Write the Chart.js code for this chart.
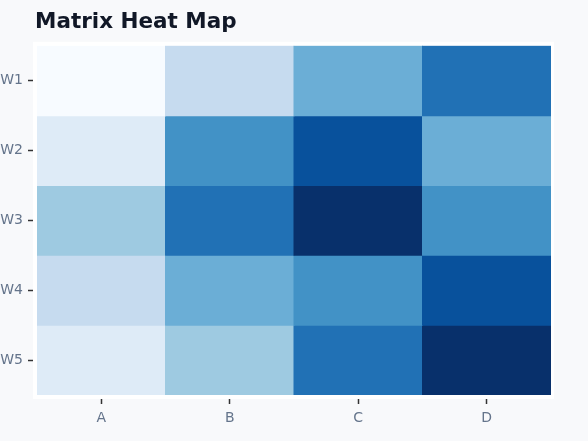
<!DOCTYPE html>
<html>
<head>
<meta charset="utf-8">
<script src="https://cdn.jsdelivr.net/npm/chart.js@4/dist/chart.umd.min.js"></script>
<style>
    html, body { margin: 0; padding: 0; background: #f8f9fb; }
    #wrap { width: 588px; height: 441px; }
</style>
</head>
<body>
<div id="wrap"><canvas id="heat"></canvas></div>
<script>
// columns and rows of the matrix
const columns = ['A', 'B', 'C', 'D'];
const rows = ['W1', 'W2', 'W3', 'W4', 'W5'];

// intensity level of every cell (0 = lightest, 8 = darkest), one array per row
const w1 = [0, 2, 4, 6];
const w2 = [1, 5, 7, 4];
const w3 = [3, 6, 8, 5];
const w4 = [2, 4, 5, 7];
const w5 = [1, 3, 6, 8];
const values = [w1, w2, w3, w4, w5];

// Blues scale
const blues = ['#f7fbff', '#deebf7', '#c6dbef', '#9ecae1', '#6baed6',
               '#4292c6', '#2171b5', '#08519c', '#08306b'];

(() => {
    const ctx = document.getElementById('heat').getContext('2d');

    // one dataset per row, floating bars spanning the row band
    const datasets = rows.map((row, r) => ({
        label: row,
        data: values[r].map(() => [r + 0.5, r + 1.5]),
        backgroundColor: values[r].map(v => blues[v]),
        borderWidth: 0,
        inflateAmount: 0.5,
        grouped: false,
        barPercentage: 1,
        categoryPercentage: 1
    }));

    // white frame behind the cells, title moved in line with the plot
    const framePlugin = {
        id: 'frame',
        afterLayout(chart) {
            chart.titleBlock.left = 35;
        },
        beforeDatasetsDraw(chart) {
            const a = chart.chartArea;
            const c = chart.ctx;
            c.save();
            c.fillStyle = '#ffffff';
            c.fillRect(a.left - 4, a.top - 4, a.right - a.left + 7, a.bottom - a.top + 8);
            c.restore();
        }
    };

    const tickFont = { family: 'DejaVu Sans', size: 14 };

    new Chart(ctx, {
        type: 'bar',
        data: { labels: columns, datasets: datasets },
        plugins: [framePlugin],
        options: {
            responsive: true,
            maintainAspectRatio: false,
            animation: false,
            layout: { padding: { left: 0, right: 37, top: 10, bottom: 0 } },
            plugins: {
                legend: { display: false },
                tooltip: { enabled: false },
                title: {
                    display: true,
                    text: 'Matrix Heat Map',
                    align: 'start',
                    color: '#111827',
                    font: { family: 'DejaVu Sans', size: 21.5, weight: 'bold' },
                    padding: { top: 0, bottom: 10 }
                }
            },
            scales: {
                x: {
                    type: 'category',
                    offset: true,
                    border: { display: false },
                    grid: {
                        offset: false,
                        drawOnChartArea: false,
                        drawTicks: true,
                        tickLength: 9,
                        tickColor: '#333333',
                        tickWidth: 1.5
                    },
                    ticks: { color: '#64748b', font: tickFont, padding: 6 },
                    afterFit(scale) { scale.height = 46; }
                },
                y: {
                    type: 'linear',
                    reverse: true,
                    min: 0.5,
                    max: 5.5,
                    border: { display: false },
                    grid: {
                        drawOnChartArea: false,
                        drawTicks: true,
                        tickLength: 9,
                        tickColor: '#333333',
                        tickWidth: 1.5
                    },
                    ticks: {
                        color: '#64748b',
                        font: tickFont,
                        padding: 5,
                        callback: v => rows[v - 1] || ''
                    },
                    afterBuildTicks(scale) {
                        scale.ticks = rows.map((_, i) => ({ value: i + 1 }));
                    },
                    afterFit(scale) { scale.width = 37; }
                }
            }
        }
    });
})();
</script>
</body>
</html>
